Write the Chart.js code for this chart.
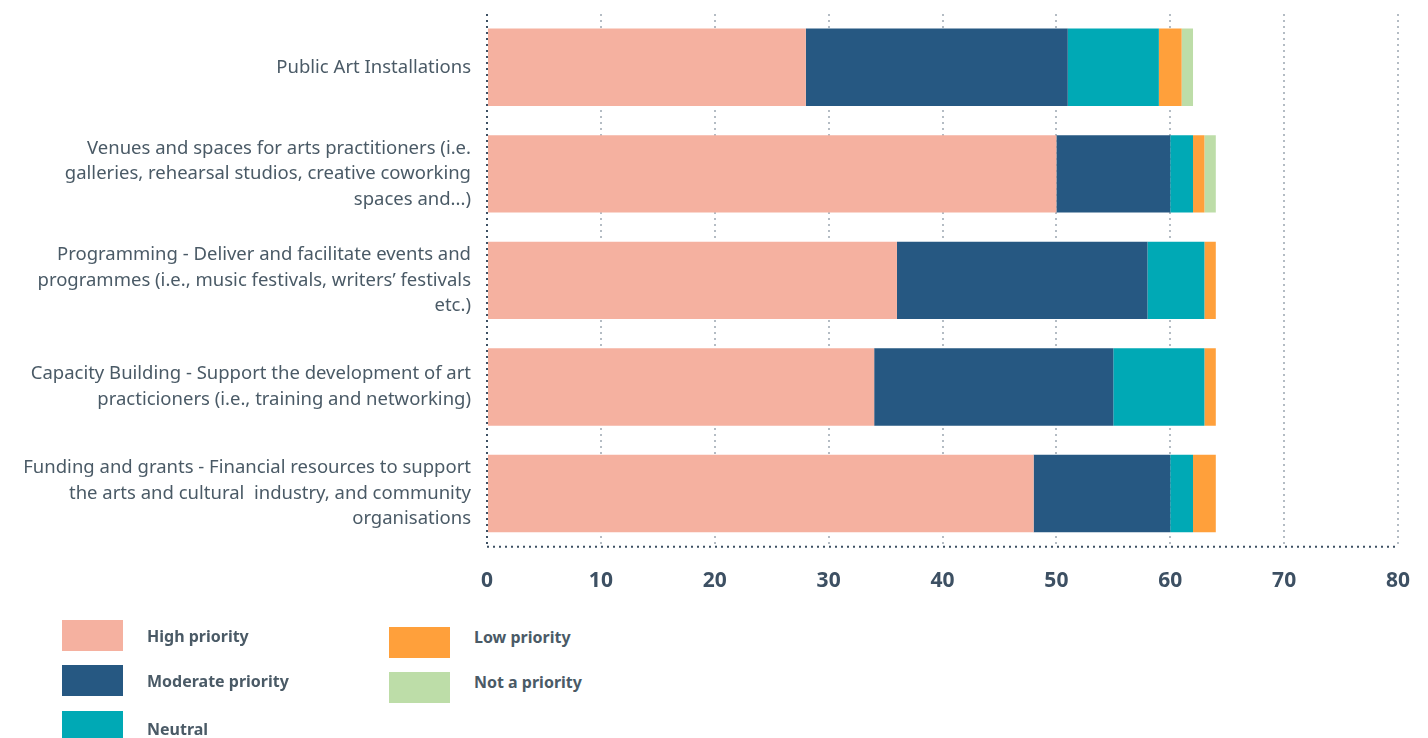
<!DOCTYPE html>
<html>
<head>
<meta charset="utf-8">
<script src="https://cdn.jsdelivr.net/npm/chart.js@4"></script>
<style>
  body { margin: 0; background: #fff; font-family: "Noto Sans", sans-serif; }
  #wrap { position: relative; width: 1428px; height: 738px; overflow: hidden; }
  #chartBox { position: absolute; left: 0; top: 0; width: 1428px; height: 622px; }
  .leg { position: absolute; font-weight: bold; font-size: 16px; color: #4a5a66; }
  .leg span.sw { position: absolute; left: 0; top: 0; width: 61px; height: 31px; }
  .leg span.tx { position: absolute; left: 85px; white-space: nowrap; line-height: 20px; }
</style>
</head>
<body>
<div id="wrap">
  <div id="chartBox"><canvas id="prioChart"></canvas></div>
  <div id="legend"></div>
</div>
<script>
var categories = [
  "Public Art Installations",
  ["Venues and spaces for arts practitioners (i.e.", "galleries, rehearsal studios, creative coworking", "spaces and...)"],
  ["Programming - Deliver and facilitate events and", "programmes (i.e., music festivals, writers\u2019 festivals", "etc.)"],
  ["Capacity Building - Support the development of art", "practicioners (i.e., training and networking)"],
  ["Funding and grants - Financial resources to support", "the arts and cultural  industry, and community", "organisations"]
];
var seriesNames = ["High priority", "Moderate priority", "Neutral", "Low priority", "Not a priority"];
var seriesColors = ["#f5b1a0", "#265882", "#00a9b5", "#ffa03b", "#bddda8"];
var highPriority     = [28, 50, 36, 34, 48];
var moderatePriority = [23, 10, 22, 21, 12];
var neutral          = [8, 2, 5, 8, 2];
var lowPriority      = [2, 1, 1, 1, 2];
var notAPriority     = [1, 1, 0, 0, 0];
var xTicks = [0, 10, 20, 30, 40, 50, 60, 70, 80];

var seriesValues = [highPriority, moderatePriority, neutral, lowPriority, notAPriority];
var textColor = "#4a5a66";
var axisColor = "#3d5063";

// dotted bottom axis line
var dottedAxes = {
  id: "dottedAxes",
  afterDatasetsDraw: function(chart) {
    var a = chart.chartArea, ctx = chart.ctx;
    ctx.save();
    ctx.strokeStyle = axisColor;
    ctx.lineWidth = 2;
    ctx.setLineDash([2, 4]);
    ctx.beginPath();
    ctx.moveTo(a.left, a.bottom);
    ctx.lineTo(a.right, a.bottom);
    ctx.stroke();
    ctx.restore();
  }
};

var ctx = document.getElementById("prioChart").getContext("2d");
var plot = new Chart(ctx, {
  type: "bar",
  data: {
    labels: categories,
    datasets: seriesNames.map(function(name, i) {
      return {
        label: name,
        data: seriesValues[i],
        backgroundColor: seriesColors[i],
        borderWidth: 0,
        barPercentage: 0.726,
        categoryPercentage: 1
      };
    })
  },
  options: {
    indexAxis: "y",
    responsive: true,
    maintainAspectRatio: false,
    animation: false,
    layout: { padding: { top: 14, right: 30, bottom: 6, left: 0 } },
    plugins: { legend: { display: false }, tooltip: { enabled: false } },
    scales: {
      x: {
        stacked: true,
        min: 0, max: 80,
        afterBuildTicks: function(scale) {
          scale.ticks = xTicks.map(function(v) { return { value: v }; });
        },
        afterFit: function(scale) {
          scale.paddingLeft = 0;
          scale.paddingRight = 0;
        },
        grid: {
          color: function(c) { return c.index === 0 ? axisColor : "#b4bcc4"; },
          lineWidth: 2,
          drawTicks: false
        },
        border: { display: false, dash: [2, 4] },
        ticks: {
          padding: 22,
          color: axisColor,
          font: { family: "Noto Sans", size: 21, weight: "bold" }
        }
      },
      y: {
        stacked: true,
        afterFit: function(scale) {
          scale.width = 487;
          scale.paddingTop = 0;
          scale.paddingBottom = 0;
        },
        grid: { display: false, drawTicks: false },
        border: { display: false },
        ticks: {
          padding: 16,
          color: textColor,
          font: { family: "Noto Sans", size: 18.5, lineHeight: 1.38 }
        }
      }
    }
  },
  plugins: [dottedAxes]
});

// legend in two columns (left, top, text shift)
var legendPos = [[62, 620, 6], [62, 665, 6], [62, 711, 8], [389, 627, 0], [389, 672, 0]];
var legendBox = document.getElementById("legend");
seriesNames.forEach(function(name, i) {
  var d = document.createElement("div");
  d.className = "leg";
  d.style.left = legendPos[i][0] + "px";
  d.style.top = legendPos[i][1] + "px";
  d.innerHTML = '<span class="sw" style="background:' + seriesColors[i] + '"></span>' +
    '<span class="tx" style="top:' + legendPos[i][2] + 'px">' + name + '</span>';
  legendBox.appendChild(d);
});
</script>
</body>
</html>
